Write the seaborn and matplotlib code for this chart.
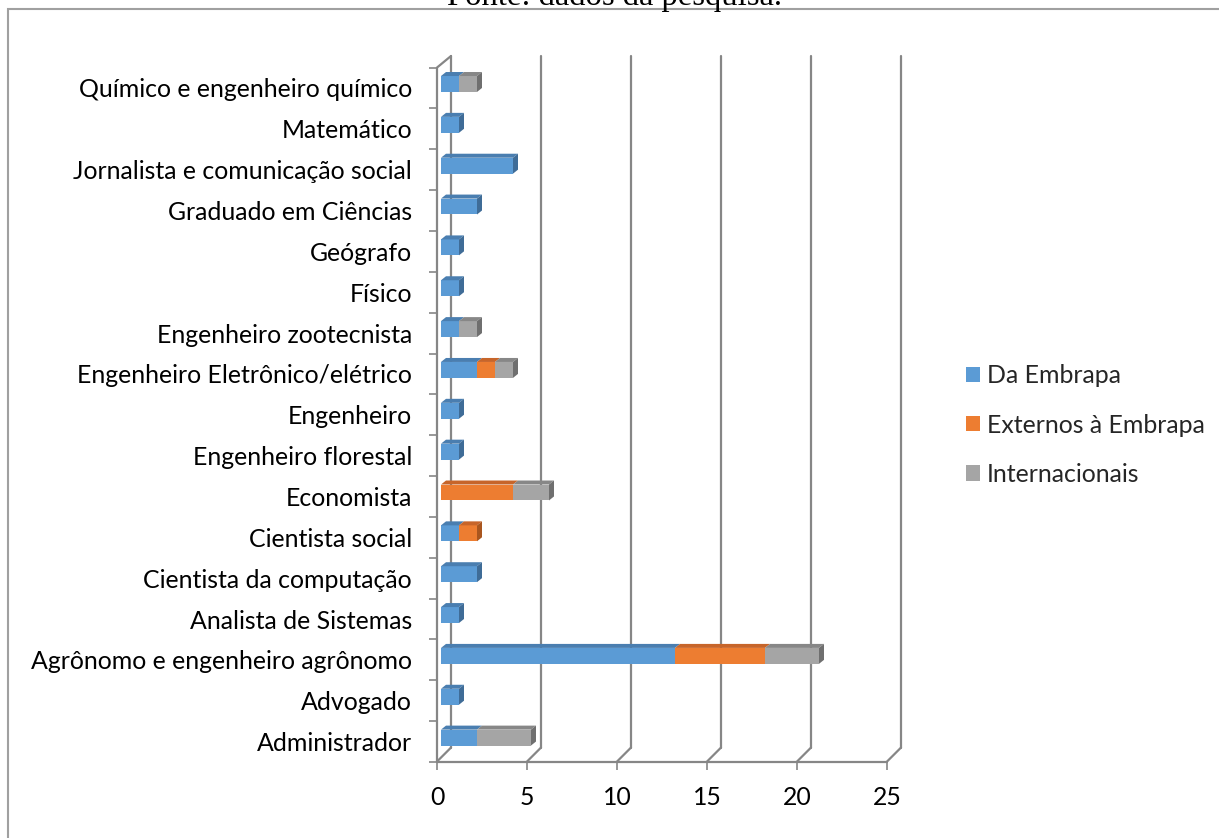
import numpy as np
import pandas as pd
import seaborn as sns
import matplotlib
matplotlib.use("Agg")
import matplotlib.pyplot as plt
from matplotlib.patches import Polygon, Patch, Rectangle
from matplotlib.transforms import ScaledTranslation
from matplotlib.lines import Line2D

# ---------------- data ----------------
categories = [
    "Químico e engenheiro químico",
    "Matemático",
    "Jornalista e comunicação social",
    "Graduado em Ciências",
    "Geógrafo",
    "Físico",
    "Engenheiro zootecnista",
    "Engenheiro Eletrônico/elétrico",
    "Engenheiro",
    "Engenheiro florestal",
    "Economista",
    "Cientista social",
    "Cientista da computação",
    "Analista de Sistemas",
    "Agrônomo e engenheiro agrônomo",
    "Advogado",
    "Administrador",
]
da_embrapa = [1, 1, 4, 2, 1, 1, 1, 2, 1, 1, 0, 1, 2, 1, 13, 1, 2]
externos = [0, 0, 0, 0, 0, 0, 0, 1, 0, 0, 4, 1, 0, 0, 5, 0, 0]
internacionais = [1, 0, 0, 0, 0, 0, 1, 1, 0, 0, 2, 0, 0, 0, 3, 0, 3]
series_names = ["Da Embrapa", "Externos à Embrapa", "Internacionais"]
x_ticks = [0, 5, 10, 15, 20, 25]
source_text = "Fonte: dados da pesquisa."

colors = ["#5B9BD5", "#ED7D31", "#A5A5A5"]
top_colors = ["#4A7EB0", "#C7652A", "#878787"]
side_colors = ["#3F6C97", "#A9561F", "#6F6F6F"]
grid_color = "#868686"

df = pd.DataFrame({"cat": categories,
                   series_names[0]: da_embrapa,
                   series_names[1]: externos,
                   series_names[2]: internacionais})
df["c1"] = df[series_names[0]]
df["c2"] = df["c1"] + df[series_names[1]]
df["c3"] = df["c2"] + df[series_names[2]]

# ---------------- figure ----------------
W, H, DPI = 1219, 838, 100
sns.set_theme(style="white")
plt.rcParams["font.family"] = ["Lato", "DejaVu Sans"]
fs = 17.9

fig = plt.figure(figsize=(W / DPI, H / DPI), dpi=DPI)
# axes: x 0..25 -> pixel 437..887 ; y pixel 56..762
ax = fig.add_axes([437 / W, (H - 762) / H, 450 / W, (762 - 56) / H])

bar_h = 0.39
# cumulative drawing (largest first) -> stacked look
for col, c in zip(["c3", "c2", "c1"], colors[::-1]):
    sns.barplot(data=df, x=col, y="cat", order=categories, orient="h",
                color=c, width=bar_h, saturation=1, ax=ax, linewidth=0,
                zorder=3)

ax.set_xlim(0, 25)
row = 40.875
ax.set_ylim((762 - 88) / row, (56 - 88) / row)

# data units per pixel
ux = 25 / 450.0
uy = 1 / row
off = ScaledTranslation(4 / DPI, 4 / DPI, fig.dpi_scale_trans)
btrans = ax.transData + off
for p in ax.patches:
    p.set_transform(btrans)

# 3D faces for bars
ddx, ddy = 5 * ux, 4 * uy
starts = [np.zeros(len(categories)), df["c1"].values, df["c2"].values]
ends = [df["c1"].values, df["c2"].values, df["c3"].values]
for i in range(len(categories)):
    yt = i - bar_h / 2
    yb = i + bar_h / 2
    last = None
    for s in range(3):
        x0, x1 = starts[s][i], ends[s][i]
        if x1 > x0:
            ax.add_patch(Polygon([(x0, yt), (x1, yt), (x1 + ddx, yt - ddy), (x0 + ddx, yt - ddy)],
                                 closed=True, facecolor=top_colors[s], edgecolor="none",
                                 transform=btrans, zorder=3))
            last = s
    if last is not None:
        x1 = ends[last][i]
        ax.add_patch(Polygon([(x1, yt), (x1 + ddx, yt - ddy), (x1 + ddx, yb - ddy), (x1, yb)],
                             closed=True, facecolor=side_colors[last], edgecolor="none",
                             transform=btrans, zorder=3))

# walls / gridlines
y_front_bot = (762 - 88) / row
y_back_bot = (748 - 88) / row
y_back_top = (56 - 88) / row
y_front_top = -0.5
gdx = 14 * ux
lw = 1.6
for t in x_ticks:
    ax.add_line(Line2D([t + gdx, t + gdx], [y_back_bot, y_back_top], color=grid_color, lw=lw,
                       zorder=1, clip_on=False))
    ax.add_line(Line2D([t, t + gdx], [y_front_bot, y_back_bot], color=grid_color, lw=lw,
                       zorder=1, clip_on=False))
ax.add_line(Line2D([0, 25], [y_front_bot, y_front_bot], color=grid_color, lw=lw, zorder=4, clip_on=False))
ax.add_line(Line2D([0, 0], [y_front_bot, y_front_top], color=grid_color, lw=lw, zorder=4, clip_on=False))
ax.add_line(Line2D([0, gdx], [y_front_top, y_back_top], color=grid_color, lw=lw, zorder=4, clip_on=False))

for sp in ax.spines.values():
    sp.set_visible(False)

ax.set_xlabel("")
ax.set_ylabel("")
ax.set_xticks(x_ticks)
ax.set_xticklabels([str(t) for t in x_ticks])
ax.set_yticks(range(len(categories)))
ax.set_yticklabels(categories)
ax.set_yticks(np.arange(len(categories) + 1) - 0.5, minor=True)
ax.tick_params(axis="y", which="major", length=0, pad=18, labelsize=fs, labelcolor="black")
ax.tick_params(axis="y", which="minor", left=True, length=5.8, width=1.2, color=grid_color)
ax.tick_params(axis="x", which="major", bottom=True, length=5.8, width=1.2, color=grid_color,
               pad=11.5, labelsize=fs, labelcolor="black")
ax.grid(False)
ax.set_facecolor("none")

# legend
handles = [Patch(facecolor=c, edgecolor="none") for c in colors]
fig.legend(handles, series_names, loc="center left",
           bbox_to_anchor=(966 / W, 1 - 425 / H), frameon=False, fontsize=fs,
           handlelength=0.58, handleheight=0.58, handletextpad=0.27, labelspacing=1.05,
           borderaxespad=0, borderpad=0)

# outer border (extends beyond the right/bottom edges) and cut-off source line (as in the reference)
fig.patches.append(Rectangle((8 / W, -0.1), 1.2, 1 - 9.5 / H + 0.1, transform=fig.transFigure,
                             fill=False, edgecolor="#A0A0A0", lw=1.5))
fig.text(0.5 + 5 / W, 1 - 5 / H, source_text, ha="center", va="baseline",
         family=["Liberation Serif", "DejaVu Serif"], fontsize=23.5, color="black")

fig.savefig("out.png", dpi=DPI)
